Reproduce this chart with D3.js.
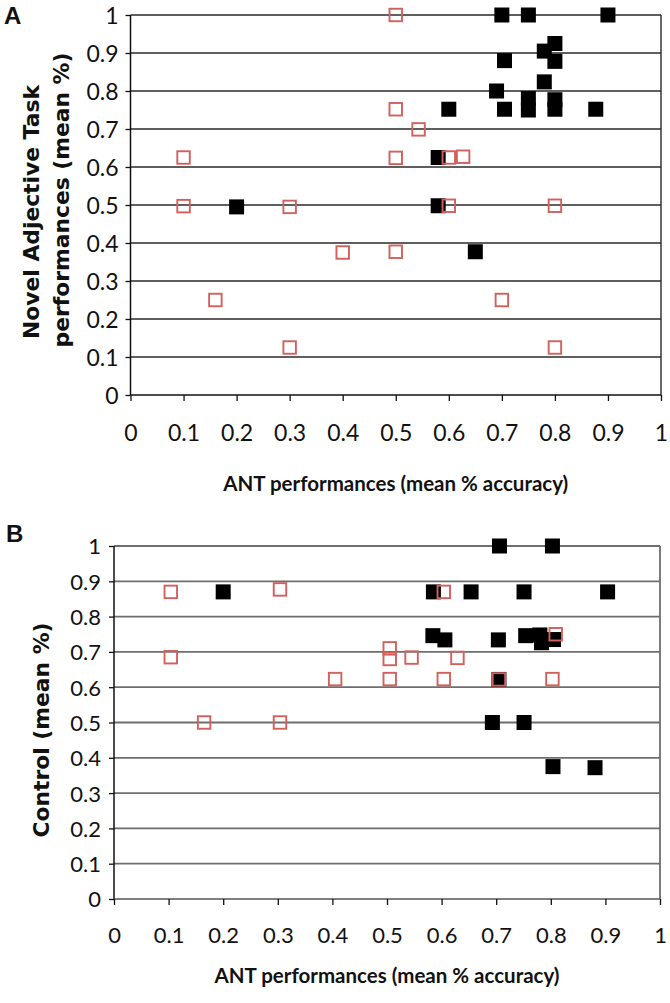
<!DOCTYPE html>
<html>
<head>
<meta charset="utf-8">
<script src="https://cdn.jsdelivr.net/npm/d3@7"></script>
<style>
  html, body { margin: 0; padding: 0; background: #fff; }
  svg { display: block; }
</style>
</head>
<body>
<svg id="chart" width="670" height="1003"></svg>
<script>
// ---------- data ----------
const tickValues = [0, 0.1, 0.2, 0.3, 0.4, 0.5, 0.6, 0.7, 0.8, 0.9, 1];
const tickLabels = ["0", "0.1", "0.2", "0.3", "0.4", "0.5", "0.6", "0.7", "0.8", "0.9", "1"];

// Panel A: ANT accuracy (x) vs Novel Adjective Task (y)
const aBlackX = [0.70, 0.75, 0.90, 0.80, 0.78, 0.705, 0.80, 0.69, 0.78, 0.75, 0.75, 0.80, 0.80, 0.705, 0.877, 0.60, 0.58, 0.58, 0.20, 0.65];
const aBlackY = [1.00, 1.00, 1.00, 0.925, 0.905, 0.88, 0.878, 0.80, 0.824, 0.78, 0.75, 0.777, 0.752, 0.752, 0.752, 0.752, 0.625, 0.498, 0.495, 0.377];
const aRedX = [0.50, 0.50, 0.543, 0.10, 0.50, 0.60, 0.627, 0.10, 0.30, 0.60, 0.80, 0.40, 0.50, 0.16, 0.70, 0.30, 0.80];
const aRedY = [1.00, 0.752, 0.699, 0.625, 0.624, 0.625, 0.627, 0.497, 0.495, 0.498, 0.498, 0.375, 0.377, 0.25, 0.25, 0.125, 0.125];

// Panel B: ANT accuracy (x) vs Control (y)
const bBlackX = [0.706, 0.803, 0.20, 0.585, 0.654, 0.751, 0.904, 0.584, 0.606, 0.704, 0.754, 0.78, 0.783, 0.805, 0.705, 0.693, 0.751, 0.804, 0.881];
const bBlackY = [1.00, 1.00, 0.87, 0.87, 0.87, 0.87, 0.87, 0.746, 0.734, 0.734, 0.746, 0.748, 0.726, 0.735, 0.622, 0.50, 0.50, 0.375, 0.372];
const bRedX = [0.104, 0.304, 0.604, 0.104, 0.505, 0.505, 0.545, 0.629, 0.809, 0.405, 0.505, 0.604, 0.705, 0.803, 0.165, 0.304];
const bRedY = [0.87, 0.877, 0.87, 0.685, 0.71, 0.68, 0.684, 0.683, 0.75, 0.623, 0.623, 0.623, 0.622, 0.623, 0.50, 0.50];

const xTitle = "ANT performances (mean % accuracy)";
const aYTitle = ["Novel Adjective Task", "performances (mean %)"];
const bYTitle = "Control (mean %)";

// ---------- drawing ----------
const svg = d3.select("#chart");
const RED = "#d2605d";

function fitText(sel, target) {
  const node = sel.node();
  let fs = parseFloat(sel.attr("font-size"));
  const len = node.getComputedTextLength();
  if (len > 0) sel.attr("font-size", (fs * target / len).toFixed(2));
}

function panel(opts) {
  const x = d3.scaleLinear().domain([0, 1]).range([opts.left, opts.right]);
  const y = d3.scaleLinear().domain([0, 1]).range([opts.bottom, opts.top]);
  const g = svg.append("g");

  // horizontal gridlines
  g.append("g").selectAll("line")
    .data(tickValues.filter(v => v > 0))
    .join("line")
    .attr("x1", opts.left).attr("x2", opts.right)
    .attr("y1", d => y(d)).attr("y2", d => y(d))
    .attr("stroke", opts.gridColor).attr("stroke-width", opts.gridWidth);

  // right border
  g.append("line")
    .attr("x1", opts.right).attr("x2", opts.right)
    .attr("y1", y(1)).attr("y2", y(0))
    .attr("stroke", opts.gridColor).attr("stroke-width", opts.gridWidth);

  // y axis
  const yAxis = d3.axisLeft(y).tickValues(tickValues)
    .tickFormat((d, i) => tickLabels[i]).tickSize(5).tickPadding(opts.yPad);
  const ya = g.append("g").attr("transform", `translate(${opts.left},0)`).call(yAxis);
  ya.select(".domain").attr("stroke", "#111").attr("stroke-width", 1.5).attr("d", `M-0,${y(0)}V${y(1)}`);
  ya.selectAll(".tick line").attr("stroke", "#111").attr("stroke-width", 1.3);
  ya.selectAll(".tick text").attr("font-family", "Lato, 'Open Sans', sans-serif")
    .attr("font-size", opts.tickFont).attr("fill", "#111").attr("dy", "0.36em");

  // x axis
  const xAxis = d3.axisBottom(x).tickValues(tickValues)
    .tickFormat((d, i) => tickLabels[i]).tickSize(6).tickPadding(opts.xPad);
  const xa = g.append("g").attr("transform", `translate(0,${opts.bottom})`).call(xAxis);
  xa.select(".domain").attr("stroke", opts.xAxisColor).attr("stroke-width", 1.6).attr("d", `M${opts.left},0H${opts.right}`);
  xa.selectAll(".tick line").attr("stroke", "#111").attr("stroke-width", 1.3);
  xa.selectAll(".tick text").attr("font-family", "Lato, 'Open Sans', sans-serif")
    .attr("font-size", opts.tickFont).attr("fill", "#111");

  // black filled squares
  const bs = 15;
  g.append("g").selectAll("rect")
    .data(opts.blackX.map((v, i) => ({ x: v, y: opts.blackY[i] })))
    .join("rect")
    .attr("x", d => x(d.x) - bs / 2).attr("y", d => y(d.y) - bs / 2)
    .attr("width", bs).attr("height", bs)
    .attr("fill", "#000");

  // red open squares
  const rs = 12.5;
  g.append("g").selectAll("rect")
    .data(opts.redX.map((v, i) => ({ x: v, y: opts.redY[i] })))
    .join("rect")
    .attr("x", d => x(d.x) - rs / 2).attr("y", d => y(d.y) - rs / 2)
    .attr("width", rs).attr("height", rs)
    .attr("fill", "none").attr("stroke", RED).attr("stroke-width", 1.9);

  // x title
  const xt = g.append("text")
    .attr("x", (opts.left + opts.right) / 2).attr("y", opts.xTitleY)
    .attr("text-anchor", "middle")
    .attr("font-family", "Lato, 'Open Sans', sans-serif").attr("font-weight", "bold")
    .attr("font-size", 20).attr("fill", "#111")
    .text(xTitle);
  fitText(xt, opts.xTitleLen);

  // panel letter
  g.append("text").attr("x", opts.letterX).attr("y", opts.letterY)
    .attr("font-family", "'Liberation Sans', Arial, sans-serif").attr("font-weight", "bold")
    .attr("font-size", 24).attr("fill", "#111").text(opts.letter);

  return { g, x, y };
}

const A = panel({
  left: 130.5, right: 661, top: 15, bottom: 395,
  gridColor: "#2a2a2a", gridWidth: 1.4, xAxisColor: "#111",
  yPad: 7, xPad: 24, tickFont: 23,
  blackX: aBlackX, blackY: aBlackY, redX: aRedX, redY: aRedY,
  xTitleY: 491, xTitleLen: 345,
  letter: "A", letterX: 4, letterY: 24
});

const B = panel({
  left: 114, right: 660, top: 546, bottom: 899,
  gridColor: "#6e6e6e", gridWidth: 1.8, xAxisColor: "#555",
  yPad: 8, xPad: 22, tickFont: 22,
  blackX: bBlackX, blackY: bBlackY, redX: bRedX, redY: bRedY,
  xTitleY: 983, xTitleLen: 345,
  letter: "B", letterX: 6, letterY: 542
});

// y titles
const yFont = "'DejaVu Sans', Verdana, sans-serif";
const l2 = svg.append("text")
  .attr("transform", "translate(69,200) rotate(-90)")
  .attr("text-anchor", "middle").attr("font-family", yFont).attr("font-weight", "bold")
  .attr("font-size", 22).attr("fill", "#111").text(aYTitle[1]);
fitText(l2, 295);
const fsA = l2.attr("font-size");
svg.append("text")
  .attr("transform", "translate(39,212) rotate(-90)")
  .attr("text-anchor", "middle").attr("font-family", yFont).attr("font-weight", "bold")
  .attr("font-size", fsA).attr("fill", "#111").text(aYTitle[0]);

svg.append("text")
  .attr("transform", "translate(49,730) rotate(-90)")
  .attr("text-anchor", "middle").attr("font-family", yFont).attr("font-weight", "bold")
  .attr("font-size", fsA).attr("fill", "#111").text(bYTitle);
</script>
</body>
</html>
